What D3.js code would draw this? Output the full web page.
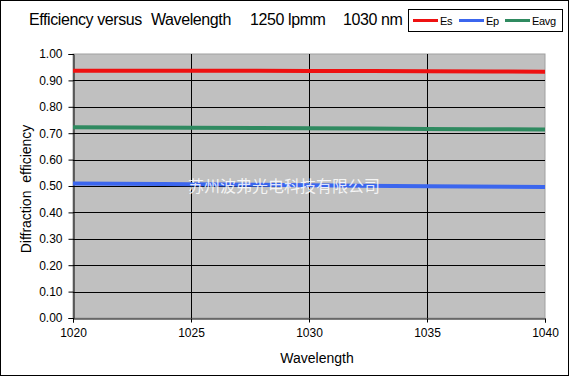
<!DOCTYPE html>
<html>
<head>
<meta charset="utf-8">
<script src="https://cdn.jsdelivr.net/npm/d3@7"></script>
<style>
  body { margin: 0; background: #fff; }
  svg { display: block; font-family: Arial, "Liberation Sans", sans-serif; }
</style>
</head>
<body>
<svg id="chart" width="569" height="376"></svg>
<script>
// data
var wavelengths = [1020, 1025, 1030, 1035, 1040];
var esValues   = [0.937, 0.937, 0.936, 0.935, 0.933];
var epValues   = [0.509, 0.507, 0.503, 0.499, 0.496];
var eavgValues = [0.723, 0.721, 0.719, 0.716, 0.714];
var seriesNames = ["Es", "Ep", "Eavg"];
var seriesColors = ["#ee1111", "#3b66ee", "#2f8a60"];
var xTicks = [1020, 1025, 1030, 1035, 1040];
var yTicks = [0, 0.1, 0.2, 0.3, 0.4, 0.5, 0.6, 0.7, 0.8, 0.9, 1.0];
var titleParts = ["Efficiency versus", "Wavelength", "1250 lpmm", "1030 nm"];

var svg = d3.select("#chart");
var W = 569, H = 376;
var m = {left: 73, right: 545, top: 54, bottom: 318};

// outer frame
svg.append("rect").attr("x", 0.5).attr("y", 0.5).attr("width", W - 1).attr("height", H - 1)
  .attr("fill", "#fff").attr("stroke", "#000");

var x = d3.scaleLinear().domain([1020, 1040]).range([m.left, m.right]);
var y = d3.scaleLinear().domain([0, 1]).range([m.bottom, m.top]);

// plot area
svg.append("rect").attr("x", m.left).attr("y", m.top)
  .attr("width", m.right - m.left).attr("height", m.bottom - m.top)
  .attr("fill", "#c0c0c0").attr("stroke", "#a0a0a0").attr("stroke-width", 1);

// grid
svg.append("g").selectAll("line").data(yTicks.slice(1, -1)).enter().append("line")
  .attr("x1", m.left).attr("x2", m.right)
  .attr("y1", function(d) { return Math.round(y(d)) + 0.5; })
  .attr("y2", function(d) { return Math.round(y(d)) + 0.5; })
  .attr("stroke", "#000").attr("stroke-width", 1);
svg.append("g").selectAll("line").data(xTicks.slice(1, -1)).enter().append("line")
  .attr("y1", m.top).attr("y2", m.bottom)
  .attr("x1", function(d) { return Math.round(x(d)) + 0.5; })
  .attr("x2", function(d) { return Math.round(x(d)) + 0.5; })
  .attr("stroke", "#000").attr("stroke-width", 1);

// axes
var yAxis = svg.append("g").attr("transform", "translate(" + (m.left + 0.5) + ",0)")
  .call(d3.axisLeft(y).tickValues(yTicks).tickFormat(d3.format(".2f")).tickSize(5).tickPadding(6));
var xAxis = svg.append("g").attr("transform", "translate(0," + (m.bottom + 0.5) + ")")
  .call(d3.axisBottom(x).tickValues(xTicks).tickFormat(d3.format("d")).tickSize(4).tickPadding(6));
[yAxis, xAxis].forEach(function(a) {
  a.select(".domain").attr("stroke", "#000");
  a.selectAll(".tick line").attr("stroke", "#000");
  a.selectAll("text").attr("fill", "#000").style("font-size", "12px")
    .style("font-family", "Arial, 'Liberation Sans', sans-serif");
});

// series
var allValues = [esValues, epValues, eavgValues];
var line = d3.line()
  .x(function(d, i) { return x(wavelengths[i]); })
  .y(function(d) { return y(d); })
  .curve(d3.curveMonotoneX);
allValues.forEach(function(vals, k) {
  svg.append("path").datum(vals).attr("d", line)
    .attr("fill", "none").attr("stroke", seriesColors[k]).attr("stroke-width", 4);
});

// watermark
svg.append("text").attr("x", 284).attr("y", 192).attr("text-anchor", "middle")
  .attr("fill", "#ffffff").attr("fill-opacity", 0.85)
  .style("font-family", "'Noto Sans CJK SC', sans-serif").style("font-size", "16px")
  .text("苏州波弗光电科技有限公司");

// titles
var titleX = [29, 151, 250, 343];
titleParts.forEach(function(t, i) {
  svg.append("text").attr("x", titleX[i]).attr("y", 25)
    .style("font-size", "16px").style("letter-spacing", "-0.4px").attr("fill", "#000").text(t);
});
svg.append("text").attr("x", 317).attr("y", 363).attr("text-anchor", "middle")
  .style("font-size", "14px").attr("fill", "#000").text("Wavelength");
svg.append("text").attr("transform", "translate(31,189) rotate(-90)").attr("text-anchor", "middle")
  .style("font-size", "14px").attr("fill", "#000").attr("xml:space", "preserve")
  .text("Diffraction  efficiency");

// legend
var lg = svg.append("g");
lg.append("rect").attr("x", 408.5).attr("y", 9.5).attr("width", 154).attr("height", 22)
  .attr("fill", "#fff").attr("stroke", "#000");
var legendX = [413, 459, 505];
seriesNames.forEach(function(n, k) {
  lg.append("line").attr("x1", legendX[k]).attr("x2", legendX[k] + 25)
    .attr("y1", 20.5).attr("y2", 20.5).attr("stroke", seriesColors[k]).attr("stroke-width", 3);
  lg.append("text").attr("x", legendX[k] + 27).attr("y", 24.5)
    .style("font-size", "11px").style("letter-spacing", "-0.3px").attr("fill", "#000").text(n);
});
</script>
</body>
</html>
